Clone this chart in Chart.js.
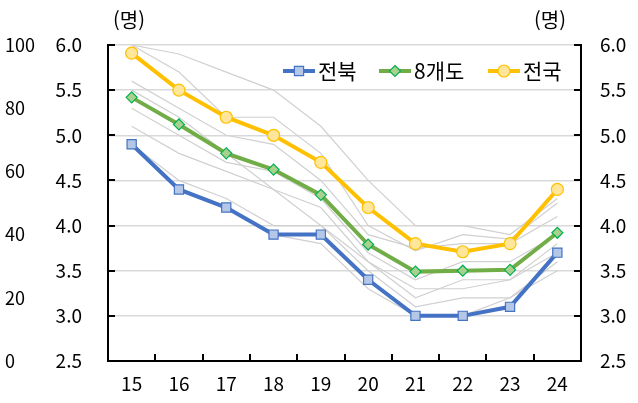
<!DOCTYPE html>
<html lang="ko">
<head>
<meta charset="UTF-8">
<title>전북 8개도 전국</title>
<script src="https://cdn.jsdelivr.net/npm/chart.js"></script>
<style>
  html, body { margin: 0; padding: 0; background: #fff; }
  #wrap { width: 638px; height: 403px; }
</style>
</head>
<body>
<div id="wrap"><canvas id="chart" width="638" height="403"></canvas></div>
<script>
const years = ['15', '16', '17', '18', '19', '20', '21', '22', '23', '24'];
const jeonbuk = [4.9, 4.4, 4.2, 3.9, 3.9, 3.4, 3.0, 3.0, 3.1, 3.7];
const provinces8 = [5.42, 5.12, 4.8, 4.62, 4.34, 3.79, 3.49, 3.5, 3.51, 3.92];
const national = [5.91, 5.5, 5.2, 5.0, 4.7, 4.2, 3.8, 3.71, 3.8, 4.4];
// other provinces (thin grey lines)
const others = [
  [6.0, 5.9, 5.7, 5.5, 5.1, 4.5, 4.0, 4.0, 3.9, 4.3],
  [6.0, 5.7, 5.2, 5.2, 4.8, 4.0, 3.72, 3.9, 3.85, 4.25],
  [5.6, 5.3, 5.0, 4.9, 4.5, 3.9, 3.75, 3.8, 3.8, 4.1],
  [5.3, 5.0, 4.7, 4.6, 4.3, 3.7, 3.4, 3.6, 3.6, 3.9],
  [5.1, 4.8, 4.6, 4.4, 4.0, 3.6, 3.2, 3.4, 3.4, 3.7],
  [4.9, 4.5, 4.3, 4.0, 4.0, 3.5, 3.1, 3.2, 3.2, 3.6],
  [5.5, 5.2, 4.8, 4.4, 4.2, 3.6, 3.3, 3.3, 3.4, 3.8],
  [4.9, 4.4, 4.2, 3.9, 3.8, 3.3, 3.0, 3.0, 3.2, 3.5]
];
const outerTicks = [0, 20, 40, 60, 80, 100];
const unitLabel = '(명)';

const FONT = '"Noto Sans CJK KR", "Noto Sans", sans-serif';

const mainSeries = [
  { label: '전북', data: jeonbuk, color: '#4472C4', fill: '#B4C7E7', edge: '#4472C4', style: 'rect', radius: 6.5 },
  { label: '8개도', data: provinces8, color: '#70AD47', fill: '#A9D18E', edge: '#00B050', style: 'rectRot', radius: 5.5 },
  { label: '전국', data: national, color: '#FFC000', fill: '#FFE699', edge: '#FFC000', style: 'circle', radius: 6 }
];

const datasets = mainSeries.map(s => ({
  label: s.label,
  data: s.data,
  borderColor: s.color,
  borderWidth: 4,
  pointStyle: s.style,
  pointRadius: s.radius,
  pointBackgroundColor: s.fill,
  pointBorderColor: s.edge,
  pointBorderWidth: 1.2,
  yAxisID: 'y',
  tension: 0
}));
others.forEach((d, i) => datasets.push({
  label: 'other' + i,
  data: d,
  borderColor: '#d0d0d0',
  borderWidth: 1.2,
  pointRadius: 0,
  yAxisID: 'y',
  tension: 0
}));

function drawMarker(ctx, style, x, y, r, fill, edge) {
  ctx.save();
  ctx.fillStyle = fill;
  ctx.strokeStyle = edge;
  ctx.lineWidth = 1.2;
  ctx.beginPath();
  if (style === 'circle') {
    ctx.arc(x, y, r, 0, Math.PI * 2);
  } else if (style === 'rect') {
    const h = r * Math.SQRT1_2;
    ctx.rect(x - h, y - h, h * 2, h * 2);
  } else {
    ctx.moveTo(x, y - r); ctx.lineTo(x + r, y); ctx.lineTo(x, y + r); ctx.lineTo(x - r, y); ctx.closePath();
  }
  ctx.fill();
  ctx.stroke();
  ctx.restore();
}

const decorations = {
  id: 'decorations',
  afterDatasetsDraw(chart) {
    const { ctx, chartArea: a, scales } = chart;
    ctx.save();
    // inward tick marks
    ctx.strokeStyle = '#000';
    ctx.lineWidth = 2;
    const yVals = [2.5, 3.0, 3.5, 4.0, 4.5, 5.0, 5.5, 6.0];
    yVals.forEach(v => {
      const py = Math.round(scales.y.getPixelForValue(v));
      ctx.beginPath(); ctx.moveTo(a.left, py); ctx.lineTo(a.left + 7, py); ctx.stroke();
      ctx.beginPath(); ctx.moveTo(a.right, py); ctx.lineTo(a.right - 7, py); ctx.stroke();
    });
    const n = years.length;
    for (let i = 0; i <= n; i++) {
      const px = Math.round(a.left + (a.right - a.left) * i / n);
      ctx.beginPath(); ctx.moveTo(px, a.bottom); ctx.lineTo(px, a.bottom - 7); ctx.stroke();
    }
    // unit labels
    ctx.fillStyle = '#000';
    ctx.font = '20px ' + FONT;
    ctx.textBaseline = 'middle';
    ctx.textAlign = 'left';
    ctx.fillText(unitLabel, a.left + 5, 20);
    ctx.textAlign = 'right';
    ctx.fillText(unitLabel, a.right - 15, 20);
    // legend
    const ly = a.top + 26;
    const starts = [283, 379, 488];
    ctx.textAlign = 'left';
    ctx.font = '21px ' + FONT;
    mainSeries.forEach((s, i) => {
      const x0 = starts[i];
      ctx.strokeStyle = s.color;
      ctx.lineWidth = 4;
      ctx.beginPath(); ctx.moveTo(x0, ly); ctx.lineTo(x0 + 32, ly); ctx.stroke();
      drawMarker(ctx, s.style, x0 + 16, ly, s.radius, s.fill, s.edge);
      ctx.fillStyle = '#000';
      ctx.fillText(s.label, x0 + 35, ly);
    });
    ctx.restore();
  }
};

const tickFont = { family: FONT, size: 19 };

new Chart(document.getElementById('chart'), {
  type: 'line',
  data: { labels: years, datasets },
  options: {
    responsive: false,
    animation: false,
    layout: { padding: { top: 45, left: 5, right: 0, bottom: 0 } },
    plugins: { legend: { display: false }, tooltip: { enabled: false } },
    scales: {
      x: {
        offset: true,
        grid: { display: false, drawTicks: false },
        border: { display: true, color: '#000', width: 2 },
        ticks: { color: '#000', font: tickFont, padding: 11 },
        afterFit(s) { s.height = 42; }
      },
      y: {
        position: 'left',
        min: 2.5, max: 6.0,
        weight: 0,
        grid: { color: '#d9d9d9', lineWidth: 1.5, drawTicks: false },
        border: { display: true, color: '#000', width: 2 },
        ticks: { stepSize: 0.5, color: '#000', font: tickFont, padding: 26, callback: v => v.toFixed(1) },
        afterFit(s) { s.width = 63; }
      },
      yRight: {
        position: 'right',
        min: 2.5, max: 6.0,
        grid: { drawOnChartArea: false, drawTicks: false },
        border: { display: true, color: '#000', width: 2 },
        ticks: { stepSize: 0.5, color: '#000', font: tickFont, padding: 19, callback: v => v.toFixed(1) },
        afterFit(s) { s.width = 57; }
      },
      yOuter: {
        position: 'left',
        min: outerTicks[0], max: outerTicks[outerTicks.length - 1],
        weight: 1,
        grid: { display: false, drawTicks: false },
        border: { display: false },
        ticks: { stepSize: 20, color: '#000', font: { family: FONT, size: 18 }, crossAlign: 'far', padding: 0 },
        afterFit(s) { s.width = 40; }
      }
    }
  },
  plugins: [decorations]
});
</script>
</body>
</html>
